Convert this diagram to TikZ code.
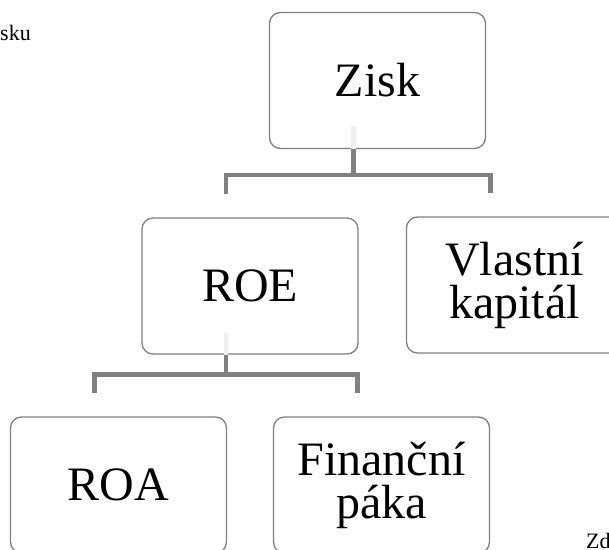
\documentclass[tikz,border=0pt]{standalone}
\usepackage{fontspec}
\setmainfont{Liberation Serif}
\usepackage{tikz}
\usetikzlibrary{positioning}

\definecolor{boxgray}{RGB}{128,128,128}
\definecolor{stubgray}{RGB}{240,240,240}

\tikzset{
	block/.style={shape=rectangle, draw=boxgray, line width=1.3pt, rounded corners=11pt, fill=white,
		minimum width=216pt, minimum height=136pt, align=center, inner sep=0pt,
		font=\fontsize{48}{43}\selectfont},
	conn/.style={draw=boxgray, line width=4.6pt},
	stub/.style={draw=stubgray, line width=4.6pt},
	edge text/.style={font=\fontsize{22}{24}\selectfont, inner sep=0pt}
}

\begin{document}
\begin{tikzpicture}[x=1pt, y=1pt]
				\useasboundingbox (0, 0) rectangle (609, 549);
				% Paths, nodes and wires:
				\node[block](zisk) at (377.5, 468.5){Zisk};
				\node[block](roe) at (250, 263){ROE};
				\node[block](vk) at (514.5, 264){Vlastní\\kapitál};
				\node[block](roa) at (118.5, 64){ROA};
				\node[block](fp) at (381.5, 64){Finanční\\páka};
				\node[edge text, anchor=base west](top) at (0, 508){sku};
				\node[edge text, anchor=base west](src) at (586, 1){Zd};
				\draw[stub] ([xshift=-24pt]zisk.south) -- ++(0, 23);
				\draw[conn] ([xshift=-24pt]zisk.south) -- ([xshift=-24pt, yshift=-26pt]zisk.south);
				\draw[conn] ([xshift=-24pt, yshift=23pt]roe.north) |- ([xshift=-24pt, yshift=-26pt]zisk.south) -| ([xshift=-24pt, yshift=23pt]vk.north);
				\draw[stub] ([xshift=-24pt]roe.south) -- ++(0, 22);
				\draw[conn] ([xshift=-24pt]roe.south) -- ([xshift=-24pt, yshift=-20pt]roe.south);
				\draw[conn] ([xshift=-24pt, yshift=23pt]roa.north) |- ([xshift=-24pt, yshift=-20pt]roe.south) -| ([xshift=-24pt, yshift=23pt]fp.north);
			\end{tikzpicture}
\end{document}
